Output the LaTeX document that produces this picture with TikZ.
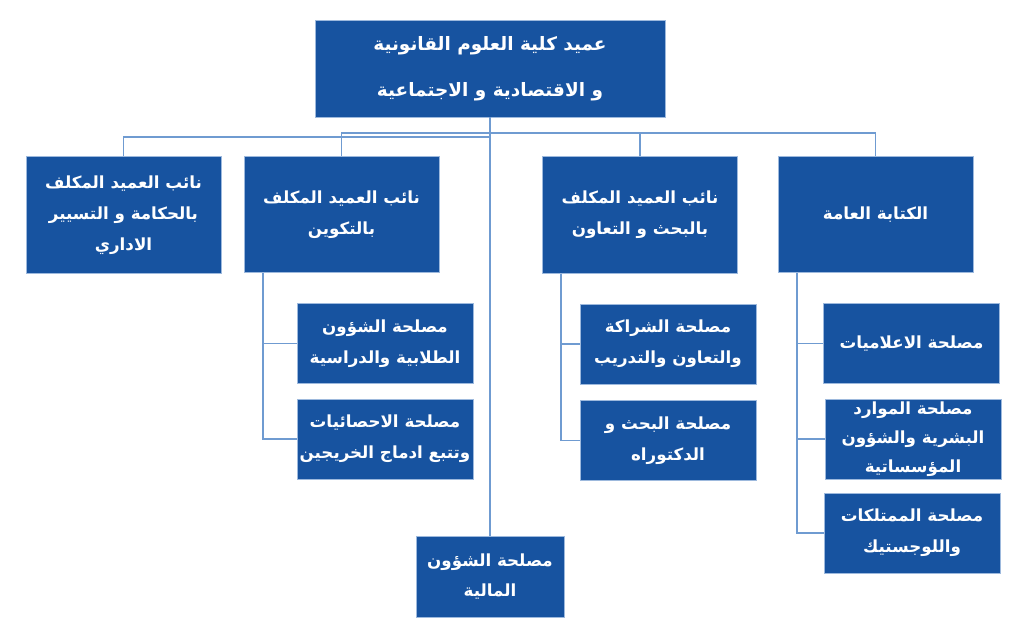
\documentclass[tikz,border=0pt]{standalone}
\usepackage{fontspec}
\newfontfamily\arabicfont[Script=Arabic]{DejaVu Sans}
\TeXXeTstate=1
\usetikzlibrary{calc}

\definecolor{boxblue}{HTML}{1753A0}
\definecolor{linkblue}{HTML}{6F9BD1}
\definecolor{rimblue}{HTML}{9DB9DD}

\newcommand{\rl}[1]{\beginR #1\endR}

\tikzset{
	unitbox/.style={fill=boxblue, draw=rimblue, line width=0.4pt, inner sep=0pt,
		text=white, align=center, font=\arabicfont\bfseries\fontsize{9.5}{17.5}\selectfont},
	headbox/.style={unitbox, minimum width=3.9cm, minimum height=2.33cm},
	officebox/.style={unitbox, minimum width=3.52cm, minimum height=1.6cm},
	link/.style={draw=linkblue, line width=1.1pt}
}

\begin{document}
\begin{tikzpicture}[x=0.02cm, y=-0.02cm]
	\useasboundingbox (0,0) rectangle (1024,637);
	% dean
	\node[unitbox, minimum width=7cm, minimum height=1.94cm,
		font=\arabicfont\bfseries\fontsize{10.5}{26}\selectfont] (dean) at (490,68.5)
		{\rl{عميد كلية العلوم القانونية}\\ \rl{و الاقتصادية و الاجتماعية}};
	% vice deans and general secretariat
	\node[headbox] (gov) at (123.5,215) {\rl{نائب العميد المكلف}\\ \rl{بالحكامة و التسيير}\\ \rl{الاداري}};
	\node[headbox] (teach) at (341.5,214.5) {\rl{نائب العميد المكلف}\\ \rl{بالتكوين}};
	\node[headbox] (research) at (640,215) {\rl{نائب العميد المكلف}\\ \rl{بالبحث و التعاون}};
	\node[headbox] (secretary) at (875.5,214.5) {\rl{الكتابة العامة}};
	% offices
	\node[officebox] (students) at (385,343.5) {\rl{مصلحة الشؤون}\\ \rl{الطلابية والدراسية}};
	\node[officebox] (stats) at (385,439) {\rl{مصلحة الاحصائيات}\\ \rl{وتتبع ادماج الخريجين}};
	\node[officebox] (partner) at (668,344) {\rl{مصلحة الشراكة}\\ \rl{والتعاون والتدريب}};
	\node[officebox] (phd) at (668,440.5) {\rl{مصلحة البحث و}\\ \rl{الدكتوراه}};
	\node[officebox] (media) at (911.5,343.5) {\rl{مصلحة الاعلاميات}};
	\node[officebox, font=\arabicfont\bfseries\fontsize{9.5}{16.5}\selectfont] (staff) at (913,439)
		{\rl{مصلحة الموارد}\\ \rl{البشرية والشؤون}\\ \rl{المؤسساتية}};
	\node[officebox] (assets) at (912,533) {\rl{مصلحة الممتلكات}\\ \rl{واللوجستيك}};
	\node[officebox, minimum width=2.96cm, minimum height=1.62cm] (finance) at (490,576.5)
		{\rl{مصلحة الشؤون}\\ \rl{المالية}};

	% tree links
	\coordinate (hubL) at (490,137);
	\coordinate (hubR) at (875.5,133);
	\draw[link] (dean.south) -- (finance.north);
	\draw[link] (gov.north) |- (hubL);
	\draw[link] (teach.north) |- (hubR) -- (secretary.north);
	\draw[link] (research.north) -- (research.north |- hubR);
	\foreach \head in {teach, research, secretary}{
		\coordinate (\head-spine) at ($(\head.south west)+(19,0)$);
	}
	\foreach \head/\office in {teach/students, teach/stats, research/partner, research/phd,
		secretary/media, secretary/staff, secretary/assets}{
		\draw[link] (\head-spine) |- (\office.west);
	}
\end{tikzpicture}
\end{document}
